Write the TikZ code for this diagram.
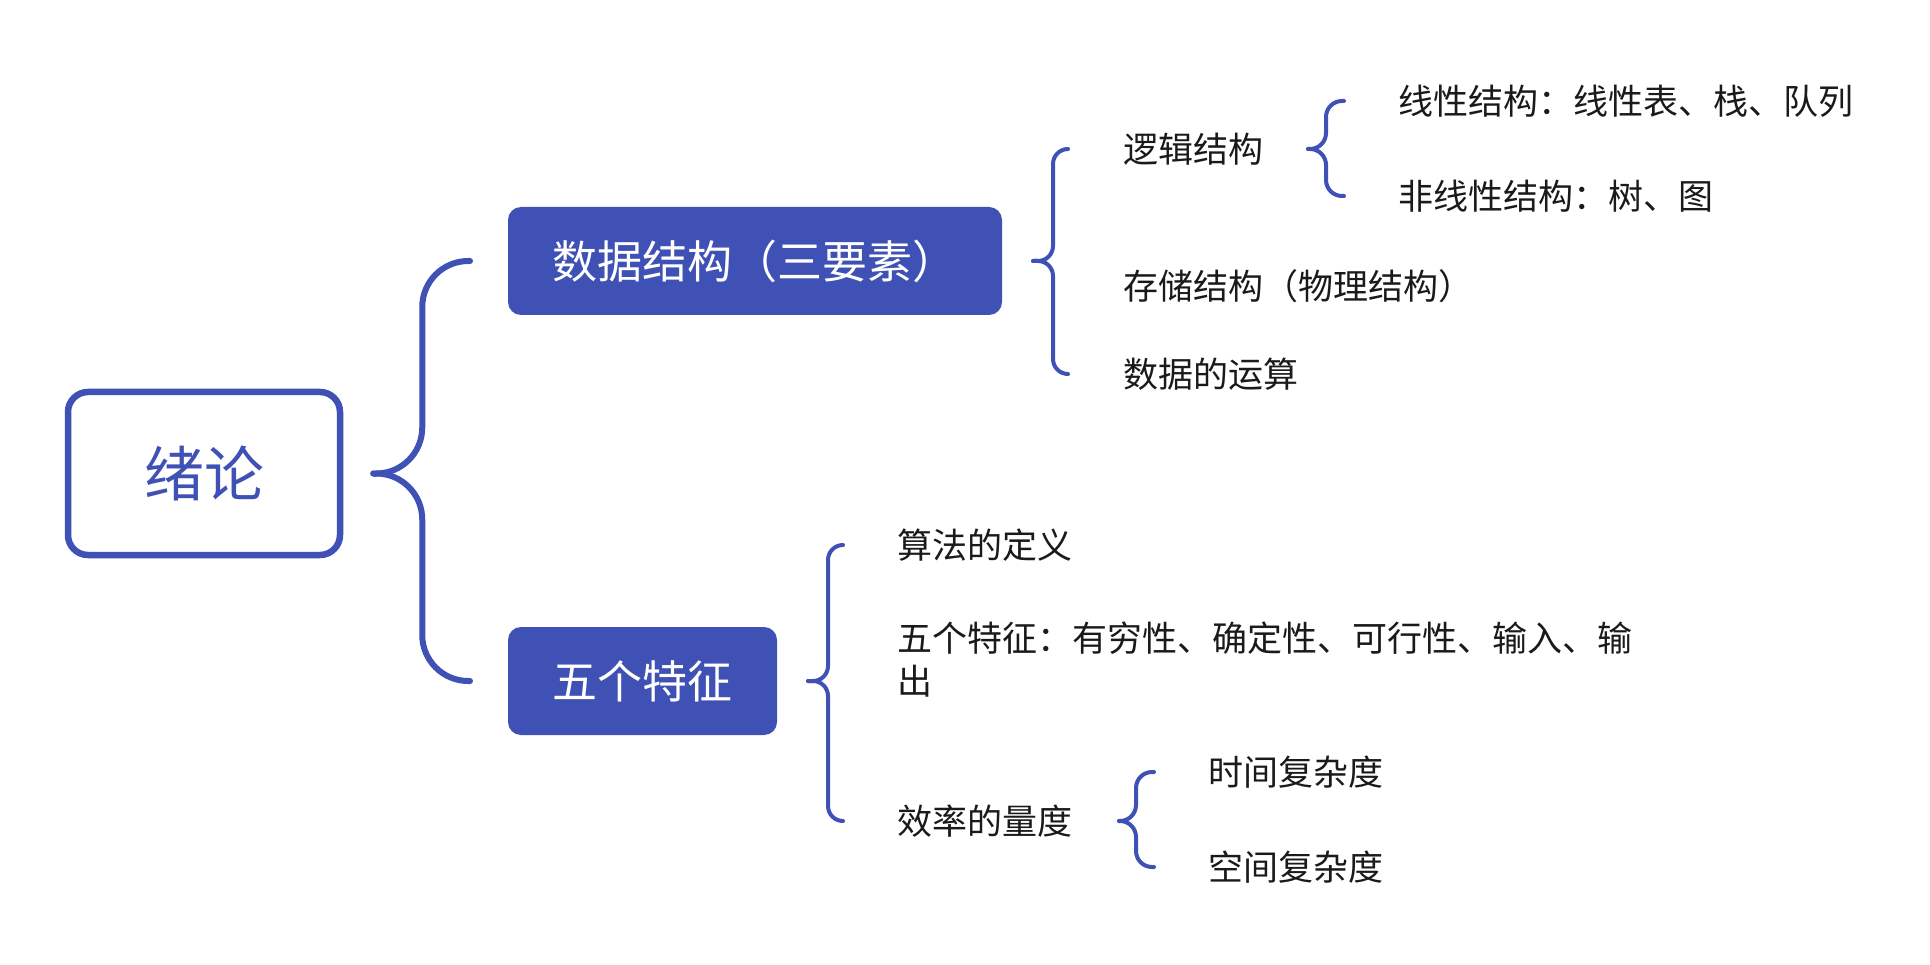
\documentclass[tikz,border=0pt]{standalone}
\usepackage{fontspec}
\newfontfamily\cjk{Noto Sans CJK SC}
\usetikzlibrary{calc}
\definecolor{ind}{HTML}{3F51B5}
\definecolor{txt}{HTML}{1A1A1A}
\begin{document}
\begin{tikzpicture}[x=1pt,y=-1pt,
  rootbox/.style={draw=ind, line width=6.5pt, rounded corners=20pt, fill=white,
    minimum width=272pt, minimum height=163pt, inner sep=0pt, text=ind,
    font={\cjk\fontsize{60pt}{72pt}\selectfont}},
  mainbox/.style={fill=ind, rounded corners=13pt, minimum height=108pt, inner xsep=44.5pt,
    inner ysep=0pt, outer sep=0pt, text=white, font={\cjk\fontsize{45pt}{54pt}\selectfont}},
  leafbase/.style={anchor=west, inner sep=0pt, outer sep=0pt, text=txt,
    font={\cjk\fontsize{35pt}{43pt}\selectfont}},
  leaf/.style={leafbase, text height=29.4pt, text depth=2.8pt},
  bigbrace/.style={draw=ind, line width=6pt, line cap=round, line join=round},
  smallbrace/.style={draw=ind, line width=4pt, line cap=round, line join=round},
]
\useasboundingbox[fill=white] (0,0) rectangle (1930,965);

% nodes
\node[rootbox] (root) at (204,473.5) {绪论};
\node[mainbox] (ds) at (755,261) {数据结构（三要素）};
\node[mainbox] (alg) at (642.5,681) {五个特征};

\node[leaf] (lj) at (1123,149) {逻辑结构};
\node[leaf] (xx) at (1398,101) {线性结构：线性表、栈、队列};
\node[leaf] (fx) at (1398,196) {非线性结构：树、图};
\node[leaf] (cc) at (1123,286) {存储结构（物理结构）};
\node[leaf] (ys) at (1123,374) {数据的运算};

\node[leaf] (dy) at (897,545) {算法的定义};
\node[leafbase, align=left] (wt) at (897,659.5) {五个特征：有穷性、确定性、可行性、输入、输\\出};
\node[leaf] (xl) at (897,821) {效率的量度};
\node[leaf] (sj) at (1208,772) {时间复杂度};
\node[leaf] (kj) at (1208,867) {空间复杂度};

% main brace
\coordinate (m1) at ([xshift=30pt]root.east);
\coordinate (m1v) at ([xshift=49pt]m1);
\draw[bigbrace, rounded corners=46pt] ([xshift=-38pt]ds.west) -| (m1v) -- (m1);
\draw[bigbrace, rounded corners=46pt] ([xshift=-38pt]alg.west) -| (m1v) -- (m1);

% brace ds
\coordinate (b2) at ([xshift=31pt]ds.east);
\coordinate (b2v) at ([xshift=20pt]b2);
\draw[smallbrace, rounded corners=15pt] ([xshift=-55pt]lj.west) -| (b2v) -- (b2);
\draw[smallbrace, rounded corners=15pt] ([xshift=-55pt]ys.west) -| (b2v) -- (b2);

% brace lj
\coordinate (b3) at ([xshift=45pt]lj.east);
\coordinate (b3v) at ([xshift=18pt]b3);
\draw[smallbrace, rounded corners=16pt] ([xshift=-54pt]xx.west) -| (b3v) -- (b3);
\draw[smallbrace, rounded corners=16pt] ([xshift=-54pt]fx.west) -| (b3v) -- (b3);

% brace alg
\coordinate (b4) at ([xshift=31pt]alg.east);
\coordinate (b4v) at ([xshift=20pt]b4);
\draw[smallbrace, rounded corners=15pt] ([xshift=-54pt]dy.west) -| (b4v) -- (b4);
\draw[smallbrace, rounded corners=15pt] ([xshift=-54pt]xl.west) -| (b4v) -- (b4);

% brace xl
\coordinate (b5) at ([xshift=47pt]xl.east);
\coordinate (b5v) at ([xshift=17pt]b5);
\draw[smallbrace, rounded corners=16pt] ([xshift=-54pt]sj.west) -| (b5v) -- (b5);
\draw[smallbrace, rounded corners=16pt] ([xshift=-54pt]kj.west) -| (b5v) -- (b5);
\end{tikzpicture}
\end{document}
